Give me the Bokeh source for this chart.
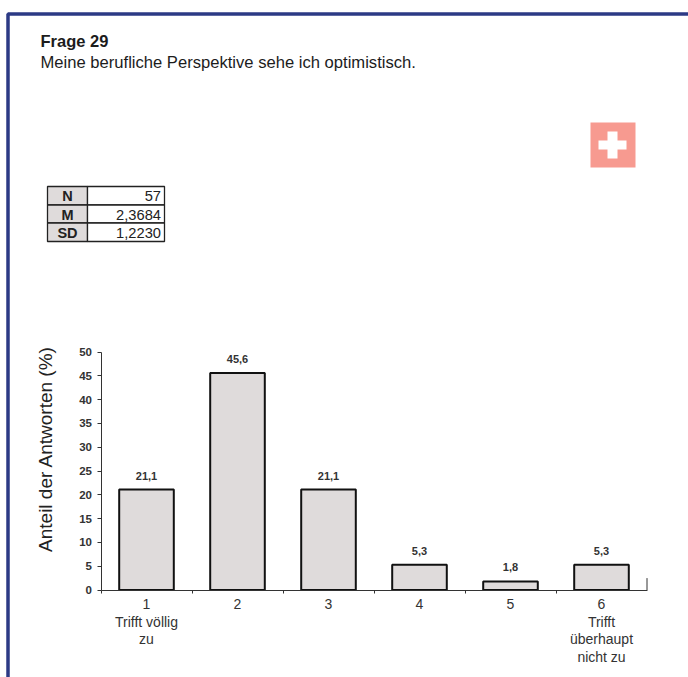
import math
from bokeh.plotting import figure
from bokeh.models import Range1d, FixedTicker, ColumnDataSource
from bokeh.core.properties import value
from bokeh.embed import file_html
from bokeh.resources import INLINE

# --- data ---
categories = [1, 2, 3, 4, 5, 6]
shares = [21.1, 45.6, 21.1, 5.3, 1.8, 5.3]
category_labels = ["1\nTrifft völlig\nzu", "2", "3", "4", "5", "6\nTrifft\nüberhaupt\nnicht zu"]
y_ticks = [0, 5, 10, 15, 20, 25, 30, 35, 40, 45, 50]
stat_names = ["N", "M", "SD"]
stat_values = ["57", "2,3684", "1,2230"]
title_text = "Frage 29"
subtitle_text = "Meine berufliche Perspektive sehe ich optimistisch."
y_title = "Anteil der Antworten (%)"

FONT = "Liberation Sans"
W, H = 688, 677
NAVY = "#2c3a85"

# Scale: page pixels <-> data units
PX_PER_CAT = 91.0
PX_PER_PCT = 238.0 / 50.0
X1_PAGE, Y0_PAGE = 146.0, 589.5


def px(x):
    return 1 + (x - X1_PAGE) / PX_PER_CAT


def py(y):
    return (Y0_PAGE - y) / PX_PER_PCT


p = figure(width=W, height=H, output_backend="svg", toolbar_location=None,
           x_range=Range1d(px(0), px(W)), y_range=Range1d(py(H), py(0)),
           min_border=0, min_border_left=0, min_border_right=0, min_border_top=0, min_border_bottom=0,
           background_fill_color="white", border_fill_color="white", outline_line_color=None)
p.grid.visible = False

# Page frame
p.line([px(7.5), px(7.5), px(688)], [py(677), py(13.5), py(13.5)], line_color=NAVY, line_width=3.5)

# Heading
p.text([px(40)], [py(40)], text=[title_text], text_font=value(FONT), text_font_style="bold",
       text_font_size="16.5px", text_color="#1c1c1c", text_baseline="alphabetic")
p.text([px(40)], [py(61.5)], text=[subtitle_text], text_font=value(FONT),
       text_font_size="16.6px", text_color="#1c1c1c", text_baseline="alphabetic")

# Flag
p.quad(left=[px(590)], right=[px(635)], top=[py(122)], bottom=[py(167)], fill_color="#f79a90", line_color=None)
p.quad(left=[px(598), px(607)], right=[px(626), px(617)], top=[py(140), py(131)], bottom=[py(149), py(158)],
       fill_color="white", line_color=None)

# Statistics table
row_edges = [186, 204.5, 222.5, 241]
for i, (name, val) in enumerate(zip(stat_names, stat_values)):
    top, bottom = row_edges[i], row_edges[i + 1]
    mid = (top + bottom) / 2
    p.quad(left=[px(47)], right=[px(87)], top=[py(top)], bottom=[py(bottom)],
           fill_color="#dfdbdb", line_color="#222222", line_width=1.3)
    p.quad(left=[px(87)], right=[px(164)], top=[py(top)], bottom=[py(bottom)],
           fill_color="white", line_color="#222222", line_width=1.3)
    p.text([px(67)], [py(mid + 0.5)], text=[name], text_font=value(FONT), text_font_style="bold",
           text_font_size="14.5px", text_color="#222222", text_align="center", text_baseline="middle")
    p.text([px(160.5)], [py(mid + 0.5)], text=[val], text_font=value(FONT),
           text_font_size="14.7px", text_color="#222222", text_align="right", text_baseline="middle")

# Bars
src = ColumnDataSource(dict(x=categories, y=shares,
                            label=[f"{v:.1f}".replace(".", ",") for v in shares]))
p.vbar(x="x", top="y", bottom=0, width=0.6, source=src, fill_color="#dfdbdb",
       line_color="#111111", line_width=2)
p.text(x="x", y="y", text="label", source=src, text_font=value(FONT), text_font_size="11px",
       text_font_style="bold", text_color="#333333", text_align="center", text_baseline="bottom", y_offset=-10)

# Y axis, fixed at the left edge of the first category
ya = p.yaxis[0]
ya.fixed_location = 0.5
ya.bounds = (0, 50)
ya.ticker = FixedTicker(ticks=y_ticks)
ya.minor_tick_line_color = None
ya.major_tick_in = 0
ya.major_tick_out = 4
ya.axis_line_color = "#333333"
ya.major_tick_line_color = "#333333"
ya.major_label_text_font = FONT
ya.major_label_text_font_size = "11.5px"
ya.major_label_text_font_style = "bold"
ya.major_label_text_color = "#333333"
ya.major_label_standoff = 5

# Y title sits above the axis centre in the reference
p.text([px(45)], [py(448.5)], text=[y_title], angle=math.pi / 2, text_font=value(FONT),
       text_font_size="19px", text_color="#222222", text_align="center", text_baseline="middle")

# X axis: labels on the categories, small ticks between them
xa = p.xaxis[0]
xa.fixed_location = 0
xa.bounds = (0.5, 6.5)
xa.ticker = FixedTicker(ticks=categories, minor_ticks=[c - 0.5 for c in categories])
xa.major_label_overrides = {c: t for c, t in zip(categories, category_labels)}
xa.major_tick_line_color = None
xa.major_tick_in = 0
xa.major_tick_out = 0
xa.minor_tick_in = 0
xa.minor_tick_out = 3
xa.axis_line_color = "#333333"
xa.minor_tick_line_color = "#333333"
xa.major_label_standoff = 3
xa.major_label_text_font = FONT
xa.major_label_text_font_size = "14px"
xa.major_label_text_color = "#333333"
xa.major_label_text_line_height = 1.1

# Closing mark at the end of the category axis
p.line([6.5, 6.5], [0, 2.5], line_color="#333333", line_width=1)

open("out.html", "w").write(file_html(p, INLINE))
